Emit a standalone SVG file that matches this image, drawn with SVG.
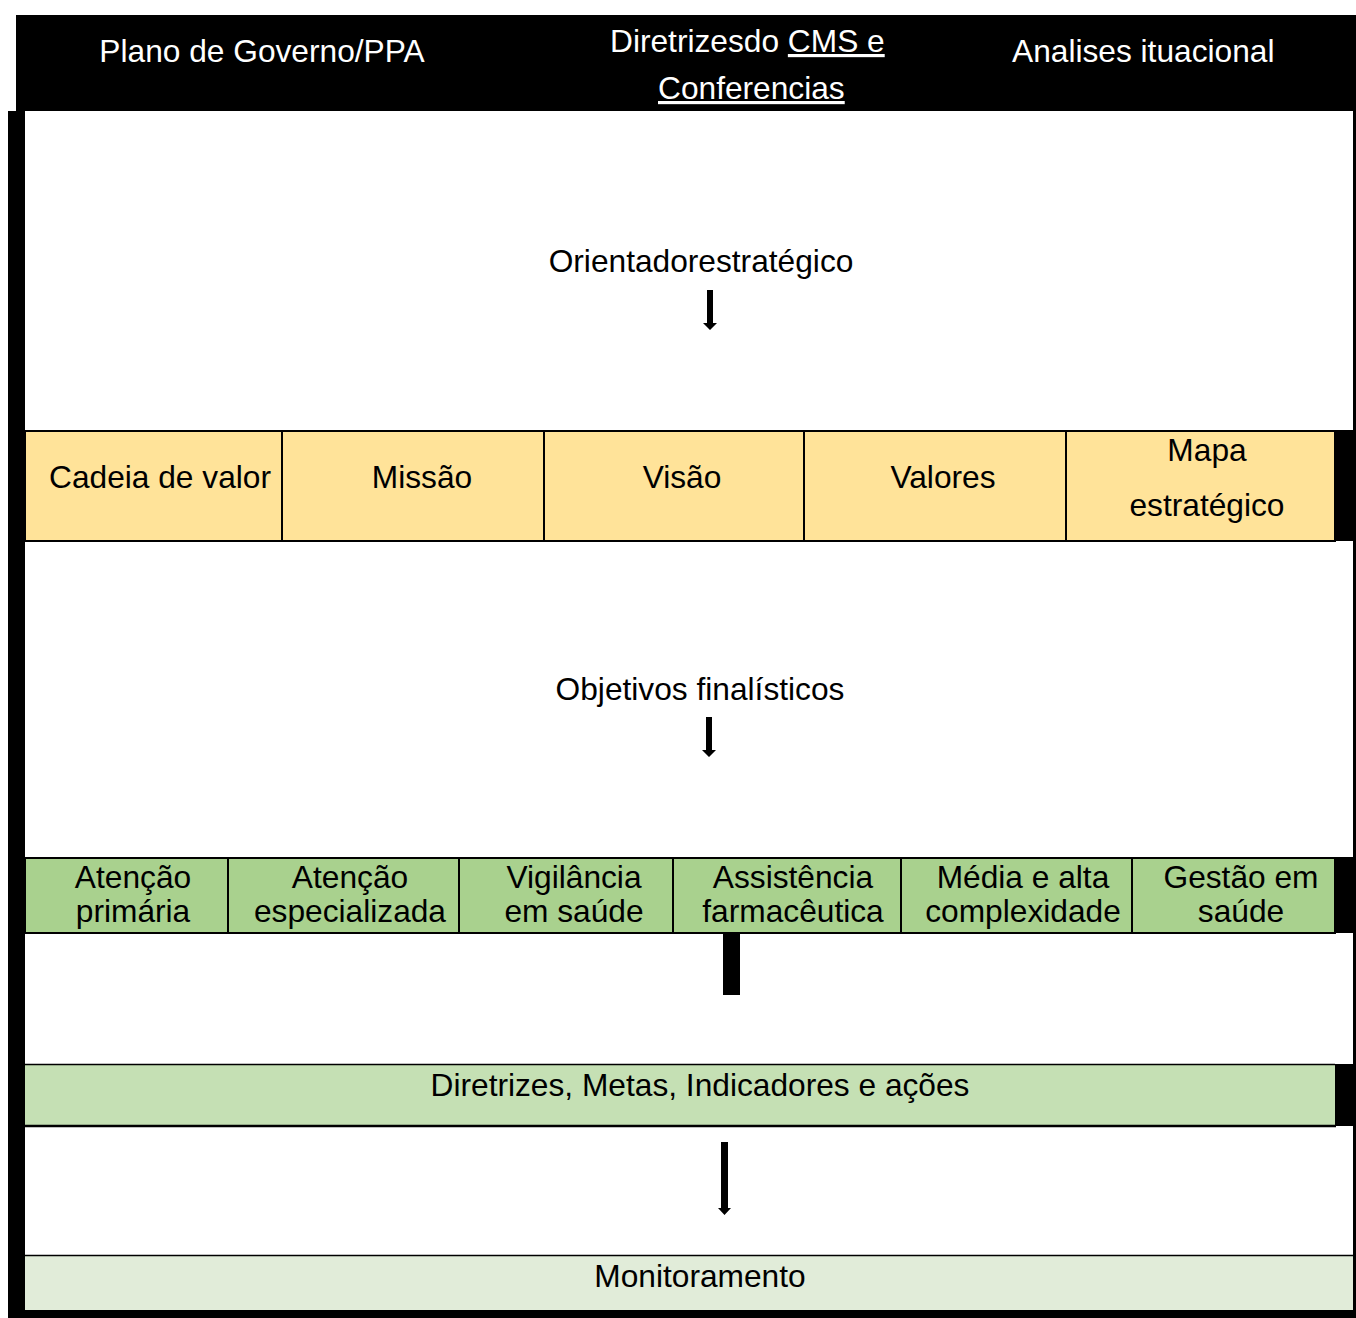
<svg xmlns="http://www.w3.org/2000/svg" width="1356" height="1318" viewBox="0 0 1356 1318">
<style>
text{font-family:"Liberation Sans",Arial,sans-serif;font-size:31.7px;fill:#000;text-anchor:middle}
.w{fill:#fff}
.st{text-anchor:start}
.cell{stroke:#000;stroke-width:2}
.o{fill:#FFE399}
.g{fill:#A9D18E}
.g2{fill:#C5E0B4}
.g3{fill:#E1ECD9}
.u{text-decoration:underline}
</style>
<rect width="1356" height="1318" fill="#fff"/>
<g id="frame">
<rect x="8" y="111" width="1348" height="1207" fill="#000"/>
<rect x="25" y="111" width="1328" height="1199" fill="#fff"/>
</g>
<g id="header">
<rect x="16" y="15" width="1340" height="96" fill="#000"/>
<text class="w" x="262" y="62">Plano de Governo/PPA</text>
<text class="w st" x="610" y="52">Diretrizesdo <tspan class="u">CMS e</tspan></text>
<text class="w st u" x="658" y="99">Conferencias</text>
<text class="w st" x="1012" y="62">Analises ituacional</text>
</g>
<g id="orientador">
<text x="701" y="272">Orientadorestratégico</text>
</g>
<g id="row1">
<rect x="1335" y="430" width="21" height="111" fill="#000"/>
<g id="cadeia"><rect class="cell o" x="25" y="431" width="257" height="110"/><text x="160" y="488">Cadeia de valor</text></g>
<g id="missao"><rect class="cell o" x="282" y="431" width="262" height="110"/><text x="422" y="488">Missão</text></g>
<g id="visao"><rect class="cell o" x="544" y="431" width="260" height="110"/><text x="682" y="488">Visão</text></g>
<g id="valores"><rect class="cell o" x="804" y="431" width="262" height="110"/><text x="943" y="488">Valores</text></g>
<g id="mapa"><rect class="cell o" x="1066" y="431" width="269" height="110"/><text x="1207" y="461">Mapa</text><text x="1207" y="516">estratégico</text></g>
</g>
<g id="objetivos">
<text x="700" y="700">Objetivos finalísticos</text>
</g>
<g id="row2">
<rect x="1335" y="857" width="21" height="76" fill="#000"/>
<g id="atencao-primaria"><rect class="cell g" x="25" y="858" width="203" height="75"/><text x="133" y="888">Atenção</text><text x="133" y="922">primária</text></g>
<g id="atencao-especializada"><rect class="cell g" x="228" y="858" width="231" height="75"/><text x="350" y="888">Atenção</text><text x="350" y="922">especializada</text></g>
<g id="vigilancia"><rect class="cell g" x="459" y="858" width="214" height="75"/><text x="574" y="888">Vigilância</text><text x="574" y="922">em saúde</text></g>
<g id="assistencia"><rect class="cell g" x="673" y="858" width="228" height="75"/><text x="793" y="888">Assistência</text><text x="793" y="922">farmacêutica</text></g>
<g id="media-alta"><rect class="cell g" x="901" y="858" width="231" height="75"/><text x="1023" y="888">Média e alta</text><text x="1023" y="922">complexidade</text></g>
<g id="gestao"><rect class="cell g" x="1132" y="858" width="203" height="75"/><text x="1241" y="888">Gestão em</text><text x="1241" y="922">saúde</text></g>
</g>
<g id="diretrizes">
<rect x="1335" y="1064" width="21" height="62" fill="#000"/>
<rect class="g2" x="25" y="1064" width="1310" height="62"/>
<line x1="25" y1="1064.5" x2="1335" y2="1064.5" stroke="#000" stroke-width="1.5"/>
<line x1="25" y1="1126" x2="1336" y2="1126" stroke="#000" stroke-width="2.5"/>
<text x="700" y="1096">Diretrizes, Metas, Indicadores e ações</text>
</g>
<g id="monitoramento">
<rect class="g3" x="25" y="1255" width="1328" height="55"/>
<line x1="25" y1="1255.5" x2="1353" y2="1255.5" stroke="#000" stroke-width="1.5"/>
<text x="700" y="1287">Monitoramento</text>
</g>
<g id="connectors" fill="#000">
<path d="M707 290H713V323H717L710 330L703 323H707Z"/>
<path d="M706 717H712V750H716L709 757L702 750H706Z"/>
<rect x="723" y="933" width="17" height="62"/>
<path d="M721 1142H728V1208H731L724.5 1215L718 1208H721Z"/>
</g>
</svg>
